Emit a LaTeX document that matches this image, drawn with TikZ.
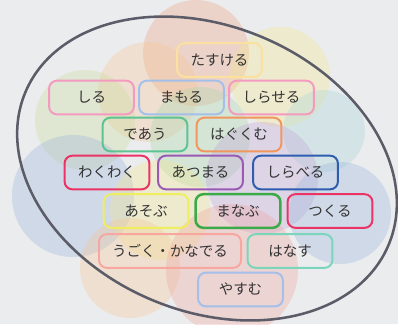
\documentclass[tikz,border=0pt]{standalone}
\usepackage{fontspec}
\setmainfont{Noto Sans CJK JP}
\definecolor{bgGray}{HTML}{EBECED}
\definecolor{ringGray}{HTML}{5B5C68}
\definecolor{inkGray}{HTML}{333333}
\definecolor{cSalmon}{HTML}{F0A07E}
\definecolor{cLemon}{HTML}{F5E78C}
\definecolor{cPeach}{HTML}{F7C696}
\definecolor{cSprout}{HTML}{C6DC98}
\definecolor{cTeal}{HTML}{A4D6D8}
\definecolor{cMint}{HTML}{A6D8A8}
\definecolor{cLilac}{HTML}{C2A2D8}
\definecolor{cSky}{HTML}{98B2DC}
\definecolor{cRose}{HTML}{F0A29C}
\definecolor{bGold}{HTML}{FBE0A0}
\definecolor{bPink}{HTML}{F49AC1}
\definecolor{bBlue}{HTML}{A4C0EA}
\definecolor{bGreen}{HTML}{5CC392}
\definecolor{bOrange}{HTML}{F0975E}
\definecolor{bCrimson}{HTML}{EB3366}
\definecolor{bPurple}{HTML}{9B59B6}
\definecolor{bNavy}{HTML}{2E5DB0}
\definecolor{bYellow}{HTML}{EEEE60}
\definecolor{bLeaf}{HTML}{3CAA48}
\definecolor{bCoral}{HTML}{F7A6A0}
\definecolor{bAqua}{HTML}{7BD5BA}
\tikzset{
  blob/.style={opacity=0.32},
  word/.style={draw=#1, line width=1.4pt, rounded corners=5.5pt, text=inkGray,
    minimum width=2.12cm, minimum height=0.84cm, inner sep=0pt, font=\fontsize{10.3}{12}\selectfont}
}
\begin{document}
\begin{tikzpicture}[x=0.025cm,y=-0.025cm]
    \fill[bgGray] (0,0) rectangle (398,324);
    \useasboundingbox (0,0) rectangle (398,324);

    % soft circles behind
    \fill[blob, cSalmon] (196,53) circle [radius=53];
    \fill[blob, cLemon] (280,77) circle [radius=50];
    \fill[blob, cPeach] (148,92) circle [radius=50];
    \fill[blob, cSprout] (85,120) circle [radius=50];
    \fill[blob, cTeal] (324,131) circle [radius=41];
    \fill[blob, cMint] (200,137) circle [radius=50];
    \fill[blob, cLilac] (262,178) circle [radius=56];
    \fill[blob, cSky] (73,196) circle [radius=61];
    \fill[blob, cSky] (340,213) circle [radius=51];
    \fill[blob, cLemon] (160,210) circle [radius=50];
    \fill[blob, cPeach] (130,268) circle [radius=50];
    \fill[blob, cRose] (232,270) circle [radius=66];

    \draw[ringGray, line width=1.8pt, rotate around={-22.8:(207,168.5)}] (207,168.5) ellipse [x radius=197, y radius=142.5];

    \node[word=bGold] (tasukeru) at (219.5,60) {たすける};
    \node[word=bPink] (shiru) at (91.5,97.5) {しる};
    \node[word=bBlue] (mamoru) at (181.5,97.5) {まもる};
    \node[word=bPink] (shiraseru) at (271.5,97.5) {しらせる};
    \node[word=bGreen] (deau) at (145,134.5) {であう};
    \node[word=bOrange] (hagukumu) at (239,134.5) {はぐくむ};
    \node[word=bCrimson] (wakuwaku) at (107,172.5) {わくわく};
    \node[word=bPurple] (atsumaru) at (200.5,172.5) {あつまる};
    \node[word=bNavy] (shiraberu) at (295.5,172.5) {しらべる};
    \node[word=bYellow] (asobu) at (146,211) {あそぶ};
    \node[word=bLeaf, line width=1.8pt] (manabu) at (238,211) {まなぶ};
    \node[word=bCrimson] (tsukuru) at (330,211) {つくる};
    \node[word=bCoral, minimum width=3.55cm] (ugoku) at (170,251) {うごく・かなでる};
    \node[word=bAqua] (hanasu) at (290,251) {はなす};
    \node[word=bBlue] (yasumu) at (240.5,289.5) {やすむ};

\end{tikzpicture}
\end{document}
